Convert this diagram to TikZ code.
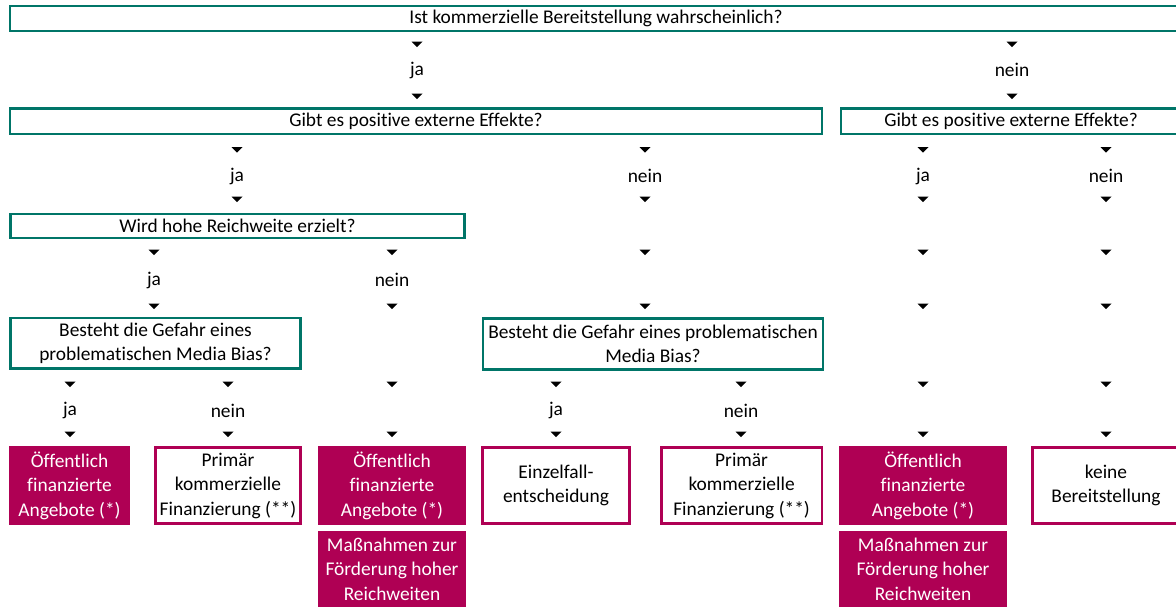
\documentclass[tikz,border=0pt]{standalone}
\usepackage{fontspec}
\setmainfont{Carlito}[Ligatures=NoCommon]
\usepackage{xcolor}
\usepackage{tikz}
\usetikzlibrary{shapes.geometric}
\definecolor{qgreen}{RGB}{0,117,104}
\definecolor{omagenta}{RGB}{175,0,84}
\tikzstyle{question} = [rectangle, draw=qgreen, line width=2.6pt, text centered, align=center, inner sep=0pt]
\tikzstyle{outcome}  = [rectangle, draw=omagenta, line width=2.6pt, text centered, align=center, inner sep=0pt]
\tikzstyle{funded}   = [rectangle, fill=omagenta, text=white, text centered, align=center, inner sep=0pt]
\tikzstyle{answer}   = [inner sep=0pt]
\tikzstyle{pointer}  = [isosceles triangle, isosceles triangle apex angle=90, isosceles triangle stretches, shape border rotate=270, fill=black, inner sep=0pt, minimum width=11pt, minimum height=5.5pt]

\begin{document}
\begin{tikzpicture}[x=1pt, y=-1pt, font=\fontsize{19.4}{24.5}\selectfont]
\path[use as bounding box, clip] (0,0) rectangle (1176,606);

% questions
\node (q1) [question, minimum width=1172pt, minimum height=25pt] at (596,18.5) {Ist kommerzielle Bereitstellung wahrscheinlich?};
\node (q2a) [question, minimum width=812pt, minimum height=25.5pt] at (416,121.3) {Gibt es positive externe Effekte?};
\node (q2b) [question, minimum width=340pt, minimum height=25.5pt] at (1011,121.3) {Gibt es positive externe Effekte?};
\node (q3) [question, minimum width=454pt, minimum height=24pt] at (237.5,226) {Wird hohe Reichweite erzielt?};
\node (q4a) [question, minimum width=290pt, minimum height=50.5pt] at (155.5,343.3) {Besteht die Gefahr eines\\problematischen Media Bias?};
\node (q4b) [question, minimum width=340pt, minimum height=51pt] at (653,343.7) {Besteht die Gefahr eines problematischen\\Media Bias?};

% outcomes
\node (oA) [funded, minimum width=121pt, minimum height=79pt] at (69.5,485.5) {Öffentlich\\finanzierte\\Angebote (*)};
\node (oB) [outcome, minimum width=145.4pt, minimum height=76.4pt] at (228,485.5) {Primär\\kommerzielle\\Finanzierung (**)};
\node (oC) [funded, minimum width=148pt, minimum height=79pt] at (392,485.5) {Öffentlich\\finanzierte\\Angebote (*)};
\node (oC2) [funded, minimum width=148pt, minimum height=76pt] at (392,569) {Maßnahmen zur\\Förderung hoher\\Reichweiten};
\node (oD) [outcome, minimum width=147.4pt, minimum height=76.4pt] at (556,485.5) {Einzelfall-\\entscheidung};
\node (oE) [outcome, minimum width=160.6pt, minimum height=76.4pt] at (741.6,485.5) {Primär\\kommerzielle\\Finanzierung (**)};
\node (oF) [funded, minimum width=168pt, minimum height=79pt] at (923,485.5) {Öffentlich\\finanzierte\\Angebote (*)};
\node (oF2) [funded, minimum width=168pt, minimum height=76pt] at (923,569) {Maßnahmen zur\\Förderung hoher\\Reichweiten};
\node (oG) [outcome, minimum width=147.4pt, minimum height=76.4pt] at (1106,485.5) {keine\\Bereitstellung};

% answers with pointers
\foreach \x/\t in {417/ja, 1012/nein} {
  \node (a1-\x) [pointer] at (\x,44) {};
  \node (l1-\x) [answer] at (\x,70) {\t};
  \node (b1-\x) [pointer] at (\x,96) {};
}
\foreach \x/\t in {237/ja, 645/nein, 923/ja, 1106/nein} {
  \node (a2-\x) [pointer] at (\x,149.5) {};
  \node (l2-\x) [answer] at (\x,176) {\t};
  \node (b2-\x) [pointer] at (\x,199) {};
}
\foreach \x/\t in {154/ja, 392/nein} {
  \node (a3-\x) [pointer] at (\x,252) {};
  \node (l3-\x) [answer] at (\x,280) {\t};
  \node (b3-\x) [pointer] at (\x,306) {};
}
\foreach \x in {645, 923, 1106} {
  \node (a3-\x) [pointer] at (\x,252) {};
  \node (b3-\x) [pointer] at (\x,306) {};
}
\foreach \x/\t in {70/ja, 228/nein, 556/ja, 741/nein} {
  \node (a4-\x) [pointer] at (\x,384) {};
  \node (l4-\x) [answer] at (\x,410.5) {\t};
  \node (b4-\x) [pointer] at (\x,434) {};
}
\foreach \x in {392, 923, 1106} {
  \node (a4-\x) [pointer] at (\x,384) {};
  \node (b4-\x) [pointer] at (\x,434) {};
}
\end{tikzpicture}
\end{document}
